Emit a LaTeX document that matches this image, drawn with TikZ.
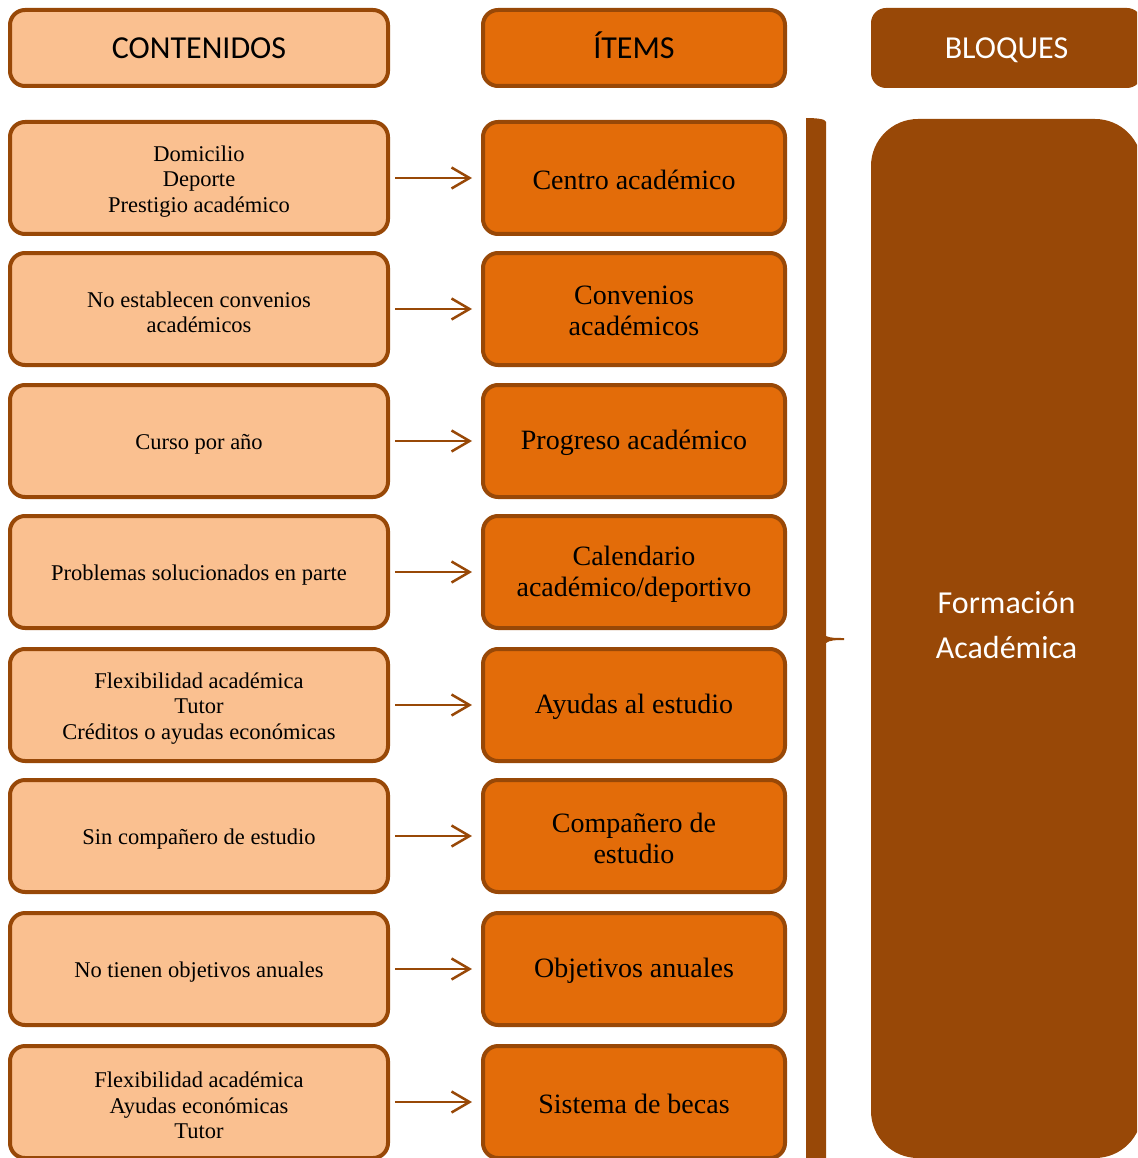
\documentclass[tikz,border=0pt]{standalone}
\usepackage{fontspec}
\setmainfont{Liberation Serif}
\newfontfamily\hdrfont{Carlito}
\usetikzlibrary{arrows.meta}
\definecolor{peach}{HTML}{FAC090}
\definecolor{amber}{HTML}{E36C09}
\definecolor{rust}{HTML}{984807}
\begin{document}
\begin{tikzpicture}[x=1pt,y=-1pt,
  hdrbox/.style={draw=rust, line width=4pt, rounded corners=15pt, minimum height=76pt,
    inner sep=0pt, text height=24pt, text depth=3.4pt,
    font=\hdrfont\fontsize{32}{38}\selectfont},
  contbox/.style={draw=rust, line width=4pt, rounded corners=15pt, fill=peach,
    minimum width=378pt, minimum height=112pt, inner sep=0pt},
  itembox/.style={draw=rust, line width=4pt, rounded corners=15pt, fill=amber,
    minimum width=302pt, minimum height=112pt, inner sep=0pt},
  conttext/.style={inner sep=0pt, align=center, yshift=-3.5pt,
    font=\fontsize{22.5}{25.5}\selectfont},
  itemtext/.style={inner sep=0pt, align=center, yshift=-2pt,
    font=\fontsize{28}{31}\selectfont},
  link/.style={draw=rust, line width=2.5pt, shorten <=5pt, shorten >=9pt,
    -{Straight Barb[length=18pt,width=21pt]}}]
\useasboundingbox (0,0) rectangle (1137,1158);
\clip (0,0) rectangle (1137,1158);

% column headers
\node[hdrbox, fill=peach, minimum width=378pt] (hc) at (199,48) {CONTENIDOS};
\node[hdrbox, fill=amber, minimum width=302pt] (hi) at (634,48) {ÍTEMS};
\node[hdrbox, fill=rust, draw=none, minimum width=271pt, minimum height=80pt,
  text=white] (hb) at (1006.5,48) {BLOQUES};

% contents and items, row by row
\foreach \k/\y/\ctext/\itext in {
  1/178/{Domicilio\\Deporte\\Prestigio académico}/{Centro académico},
  2/309/{No establecen convenios\\académicos}/{Convenios\\académicos},
  3/441/{Curso por año}/{Progreso académico},
  4/572/{Problemas solucionados en parte}/{Calendario\\académico/deportivo},
  5/705/{Flexibilidad académica\\Tutor\\Créditos o ayudas económicas}/{Ayudas al estudio},
  6/836/{Sin compañero de estudio}/{Compañero de\\estudio},
  7/969/{No tienen objetivos anuales}/{Objetivos anuales},
  8/1102/{Flexibilidad académica\\Ayudas económicas\\Tutor}/{Sistema de becas}}{
  \node[contbox] (c\k) at (199,\y) {};
  \node[conttext] (ct\k) at (c\k.center) {\ctext};
  \node[itembox] (i\k) at (634,\y) {};
  \node[itemtext] (it\k) at (i\k.center) {\itext};
  \draw[link] (c\k.east) -- (i\k.west);
}

% bracket grouping all items
\fill[rust] (806,118) .. controls (816,118) and (826,119) .. (826,122)
  -- (826,636) .. controls (830,638) and (836,638) .. (844,638)
  -- (844,640) .. controls (836,640) and (830,640) .. (826,643)
  -- (826,1170) -- (806,1170) -- cycle;

% block
\node[fill=rust, rounded corners=47pt, minimum width=271pt, minimum height=1039pt,
  inner sep=0pt] (blk) at (1006.5,638.5) {};
\node[text=white, align=center, font=\hdrfont\fontsize{32}{45}\selectfont]
  (blktxt) at (1006.5,625) {Formación\\Académica};
\end{tikzpicture}
\end{document}
